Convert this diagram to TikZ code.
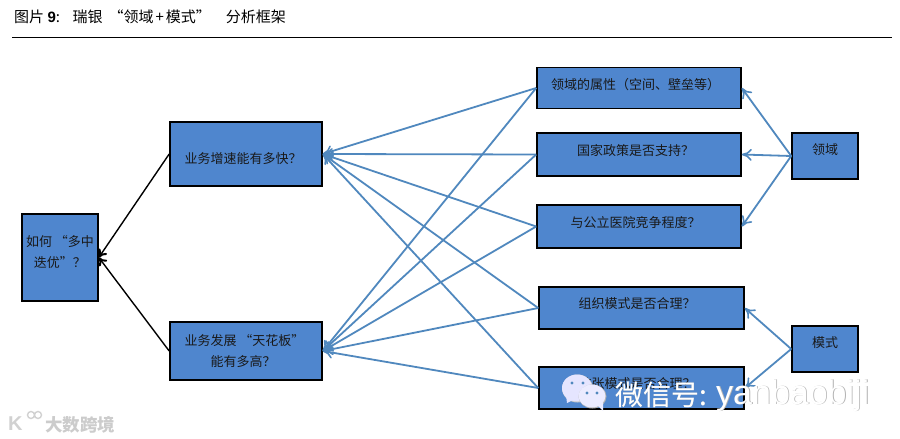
\documentclass[tikz,border=0pt]{standalone}
\usepackage{fontspec}
\setmainfont{Noto Sans CJK SC}
\newfontfamily\latinfont{Liberation Sans}
\usetikzlibrary{arrows.meta}
\definecolor{boxblue}{HTML}{4F86CE}
\definecolor{lineblue}{HTML}{5088BE}
\newcommand{\myopen}{\hspace{6pt}“}
\newcommand{\myclose}{”\hspace{15pt}}
\tikzset{
  x=1pt,y=-1pt,
  box/.style={draw=black,line width=1.6pt,fill=boxblue,inner sep=0pt,align=center,font=\fontsize{13}{21}\selectfont,text=black!90},
  rbox/.style={box,minimum width=204pt,minimum height=41pt,text depth=9pt},
  link/.style={draw=lineblue,line width=1.8pt,-{To[length=10pt,width=12pt,line width=1.6pt]}},
  blacklink/.style={draw=black,line width=1.4pt,-{To[length=8pt,width=10pt,line width=2pt]}},
  wm/.style={inner sep=0pt,anchor=base west},
}
\begin{document}
\begin{tikzpicture}
\useasboundingbox (0,0) rectangle (900,439);
\fill[white] (0,0) rectangle (900,439);
\node[anchor=west,inner sep=0pt,font=\fontsize{15}{17}\selectfont] (title) at (14,17) {图片 {\latinfont\bfseries 9}:\hspace{8pt} 瑞银\myopen 领域\hspace{2pt}+\hspace{2pt}模式\myclose 分析框架};
\coordinate (ruleL) at (12,37.5);
\coordinate (ruleR) at (892,37.5);
\draw[line width=0.8pt] (ruleL) -- (ruleR);

\node[box,minimum width=76pt,minimum height=87pt,text height=22pt] (root) at (60,257.5) {如何\hspace{3pt}“多中\\迭优”？};
\node[box,minimum width=152pt,minimum height=64pt,text height=19pt,text depth=0pt] (speed) at (246,154) {业务增速能有多快？\hspace*{6pt}};
\node[box,minimum width=152pt,minimum height=58pt] (ceil) at (246,351) {业务发展\hspace{3pt}“天花板”\hspace*{3pt}\\能有多高？\hspace*{6pt}};

\node[rbox] (r1) at (639,88) {领域的属性（空间、壁垒等）\hspace*{7pt}};
\node[rbox,minimum height=43pt] (r2) at (639,154.5) {国家政策是否支持？\hspace*{7pt}};
\node[rbox,minimum height=43pt] (r3) at (639,226.5) {与公立医院竞争程度？\hspace*{7pt}};
\node[rbox,minimum width=205pt,minimum height=42pt] (r4) at (641.5,308) {组织模式是否合理？\hspace*{9pt}};
\node[rbox,minimum width=205pt,minimum height=42pt] (r5) at (641.5,388) {扩张模式是否合理？\hspace*{9pt}};
\node[box,minimum width=66pt,minimum height=46pt,text depth=14pt] (dom) at (825,156) {领域};
\node[box,minimum width=66pt,minimum height=46pt,text depth=14pt] (mode) at (825,349) {模式};

\draw[blacklink] (speed.west) -- (root.east);
\draw[blacklink] (ceil.west) -- (root.east);
\foreach \r in {r1,r2,r3,r4,r5}{
  \draw[link] (\r.west) -- (speed.east);
  \draw[link] (\r.west) -- (ceil.east);
}
\draw[link] (dom.west) -- (r1.east);
\draw[link] (dom.west) -- (r2.east);
\draw[link] (dom.west) -- (r3.east);
\draw[link] (mode.west) -- (r4.east);
\draw[link] (mode.west) -- (r5.east);

% watermark: speech bubbles
\fill[black!22] (577.5,388.5) ellipse (15.5 and 14);
\fill[white!90!blue] (577,388) ellipse (15 and 13.5);
\fill[white!90!blue] (566,395) -- (567,403) -- (575,399) -- cycle;
\fill[black!30] (592.5,396.5) ellipse (14 and 12);
\fill[white!92!blue] (592,396) ellipse (13.5 and 11.5);
\fill[white!92!blue] (597,405) -- (603,411) -- (603,402) -- cycle;
\fill[lineblue] (572,383) circle (1.7) (583,383) circle (1.7) (587,393) circle (1.7) (597,393) circle (1.7);
\node[wm,font=\fontsize{28}{30}\selectfont,text=black!30] at (615.7,405.7) {微信号:};
\node[wm,font=\fontsize{28}{30}\selectfont,text=white] (wechat) at (615,405) {微信号:};
\node[wm,font=\latinfont\fontsize{34}{36}\selectfont,text=black!30] at (716.8,404.7) {yanbaobiji};
\node[wm,font=\latinfont\fontsize{34}{36}\selectfont,text=white] (wid) at (716,404) {yanbaobiji};

% watermark: logo
\node[wm,font=\latinfont\bfseries\fontsize{20}{22}\selectfont,text=black!18] (k) at (8,430) {K};
\draw[black!18,line width=1.4pt] (31,415) circle (3.5) (38,415) circle (3.5);
\node[wm,font=\bfseries\fontsize{17.5}{19}\selectfont,text=black!20] (logo) at (45,431) {大数跨境};
\end{tikzpicture}
\end{document}
